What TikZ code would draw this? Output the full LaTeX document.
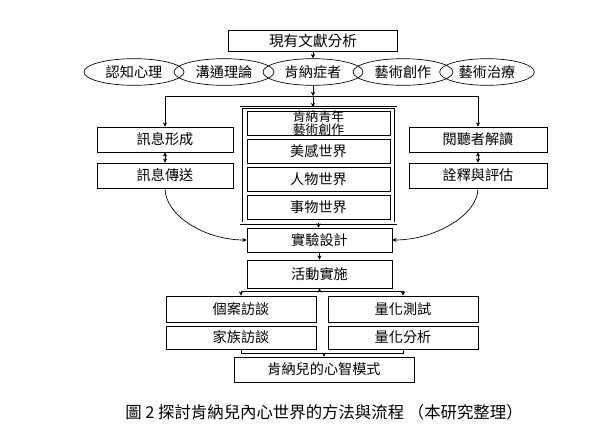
\documentclass[tikz,border=0pt]{standalone}
\usepackage{fontspec}
\setmainfont{Noto Sans CJK TC}
\usetikzlibrary{arrows.meta,positioning,shapes.geometric,fit}

\begin{document}
\begin{tikzpicture}[
    x=0.75pt, y=-0.75pt,
    line width=0.5pt,
    >={Stealth[length=3.2pt,width=3.2pt]},
    every node/.style={inner sep=0pt, font=\fontsize{10.6}{12}\selectfont},
    box/.style={draw, minimum height=18.75pt},
    oval/.style={draw, ellipse, minimum width=75pt, minimum height=20pt},
    inbox/.style={box, minimum width=107.25pt, minimum height=18pt}
]
\useasboundingbox (0,0) rectangle (600,436);

\node[box, minimum width=127pt, minimum height=16pt, font=\fontsize{11}{12}\selectfont] (lit) at (313,40.5) {現有文獻分析};

% theory ellipses
\node[oval] (cog) at (134,72) {認知心理};
\node[oval] (comm) at (224,72) {溝通理論};
\node[oval] (autism) at (313,72) {肯納症者};
\node[oval] (art) at (403,72) {藝術創作};
\node[oval, minimum width=71pt] (therapy) at (487,72) {藝術治療};

% left and right columns
\node[box, minimum width=102pt] (form) at (165,139.5) {訊息形成};
\node[box, minimum width=102pt] (send) at (165,175.5) {訊息傳送};
\node[box, minimum width=103.5pt] (read) at (478,139.5) {閱聽者解讀};
\node[box, minimum width=103.5pt] (interp) at (478,175.5) {詮釋與評估};

% inner world
\node[inbox] (youth) at (318.5,123) {};
\node[align=center, font=\fontsize{9.6}{9.4}\selectfont] (youthtext) at (youth) {肯納青年\\藝術創作};
\node[inbox] (beauty) at (318.5,151) {美感世界};
\node[inbox] (people) at (318.5,179.5) {人物世界};
\node[inbox] (things) at (318.5,207.5) {事物世界};
\node[draw, double, double distance=1.3pt, fit=(youth)(things), inner xsep=4pt, inner ysep=2.4pt] (world) {};

% method
\node[box, minimum width=108.75pt, minimum height=18pt] (design) at (319.5,240) {實驗設計};
\node[box, minimum width=108.75pt, minimum height=21pt] (act) at (319.5,274) {活動實施};
\node[box, minimum width=112.5pt, minimum height=19.5pt] (case) at (241,309) {個案訪談};
\node[box, minimum width=112.5pt, minimum height=17.25pt] (family) at (241,337.5) {家族訪談};
\node[box, minimum width=112.5pt, minimum height=19.5pt] (test) at (403,309) {量化測試};
\node[box, minimum width=112.5pt, minimum height=17.25pt] (analysis) at (403,337.5) {量化分析};
\node[box, minimum width=135pt] (model) at (324,369.5) {肯納兒的心智模式};

\node[font=\fontsize{12.3}{14}\selectfont] (caption) at (324,412) {圖 2 探討肯納兒內心世界的方法與流程 （本研究整理）};

\coordinate (split) at (313,96);
\coordinate (fork) at (319.5,291);
\coordinate (merge) at (324,353);

% top flow
\draw[->] (lit) -- (autism);
\draw[->] (autism) -- (split);
\draw[->] (split) -| (form.north);
\draw[->] (split) -| (read.north);
\draw[->] (split) -- (split |- world.north);
\draw[<->] (form) -- (send);
\draw[<->] (read) -- (interp);

% into design
\draw[->] (send.south) .. controls +(0,27) and +(-42,0) .. (design.west);
\draw[->] (interp.south) .. controls +(0,27) and +(42,0) .. (design.east);
\draw[->] (world.south) -- (world.south |- design.north);
\draw[->] (design) -- (act);

% fork and merge
\draw[->] (fork) -- (act.south);
\draw[->] (fork) -| (case.north);
\draw[->] (fork) -| (test.north);
\draw (family.south) -- ++(0,4) -| (analysis.south);
\draw[->] (merge) -- (model.north);

\end{tikzpicture}
\end{document}
